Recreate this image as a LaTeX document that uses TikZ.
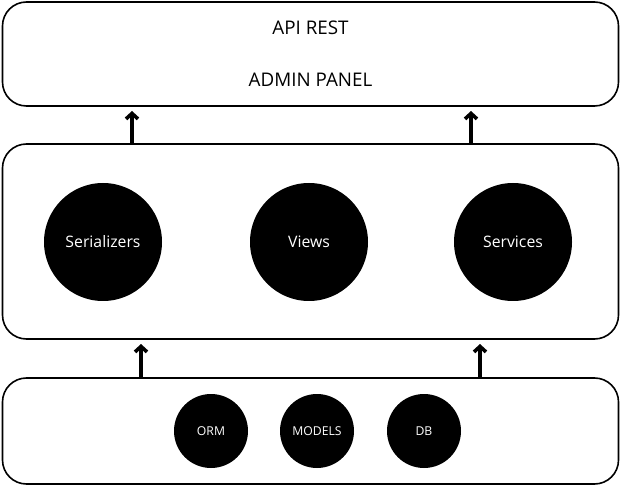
\documentclass[tikz,border=0pt]{standalone}
\usepackage{fontspec}
\setmainfont{Open Sans}
\usetikzlibrary{arrows.meta}
\begin{document}
\begin{tikzpicture}[x=1pt,y=-1pt,
  layer/.style={draw=black,line width=1.6pt,rounded corners=24pt,fill=white},
  bigc/.style={circle,fill=black,minimum size=118pt,inner sep=0pt,text=white,font=\fontsize{15.8}{19}\selectfont},
  smallc/.style={circle,fill=black,minimum size=74pt,inner sep=0pt,text=white,font=\fontsize{12.2}{14}\selectfont},
  up/.style={-{Straight Barb[length=5.5pt,width=12pt,line width=3.6pt]},line width=3.6pt},
  lbl/.style={font=\fontsize{18.8}{22}\selectfont}]
\useasboundingbox (0,0) rectangle (621,486);
\node[layer,minimum width=616pt,minimum height=104pt,inner sep=0pt] (top) at (310.5,54) {};
\node[layer,minimum width=616pt,minimum height=195pt,inner sep=0pt] (mid) at (310.5,241.5) {};
\node[layer,minimum width=616pt,minimum height=106pt,inner sep=0pt] (bot) at (310.5,431) {};
\node[lbl] (api) at (310.5,28) {API REST};
\node[lbl] (admin) at (310.5,80) {ADMIN PANEL};
\node[bigc] (ser) at (103,242) {Serializers};
\node[bigc] (views) at (309,242) {Views};
\node[bigc] (serv) at (513,242) {Services};
\node[smallc] (orm) at (211,431) {ORM};
\node[smallc] (models) at (317,431) {MODELS};
\node[smallc] (db) at (424,431) {DB};
\coordinate (a1) at (132,144); \coordinate (a1e) at (132,111);
\coordinate (a2) at (471,144); \coordinate (a2e) at (471,111);
\coordinate (b1) at (141,378); \coordinate (b1e) at (141,344);
\coordinate (b2) at (480,378); \coordinate (b2e) at (480,344);
\draw[up] (a1) -- (a1e);
\draw[up] (a2) -- (a2e);
\draw[up] (b1) -- (b1e);
\draw[up] (b2) -- (b2e);
\end{tikzpicture}
\end{document}
